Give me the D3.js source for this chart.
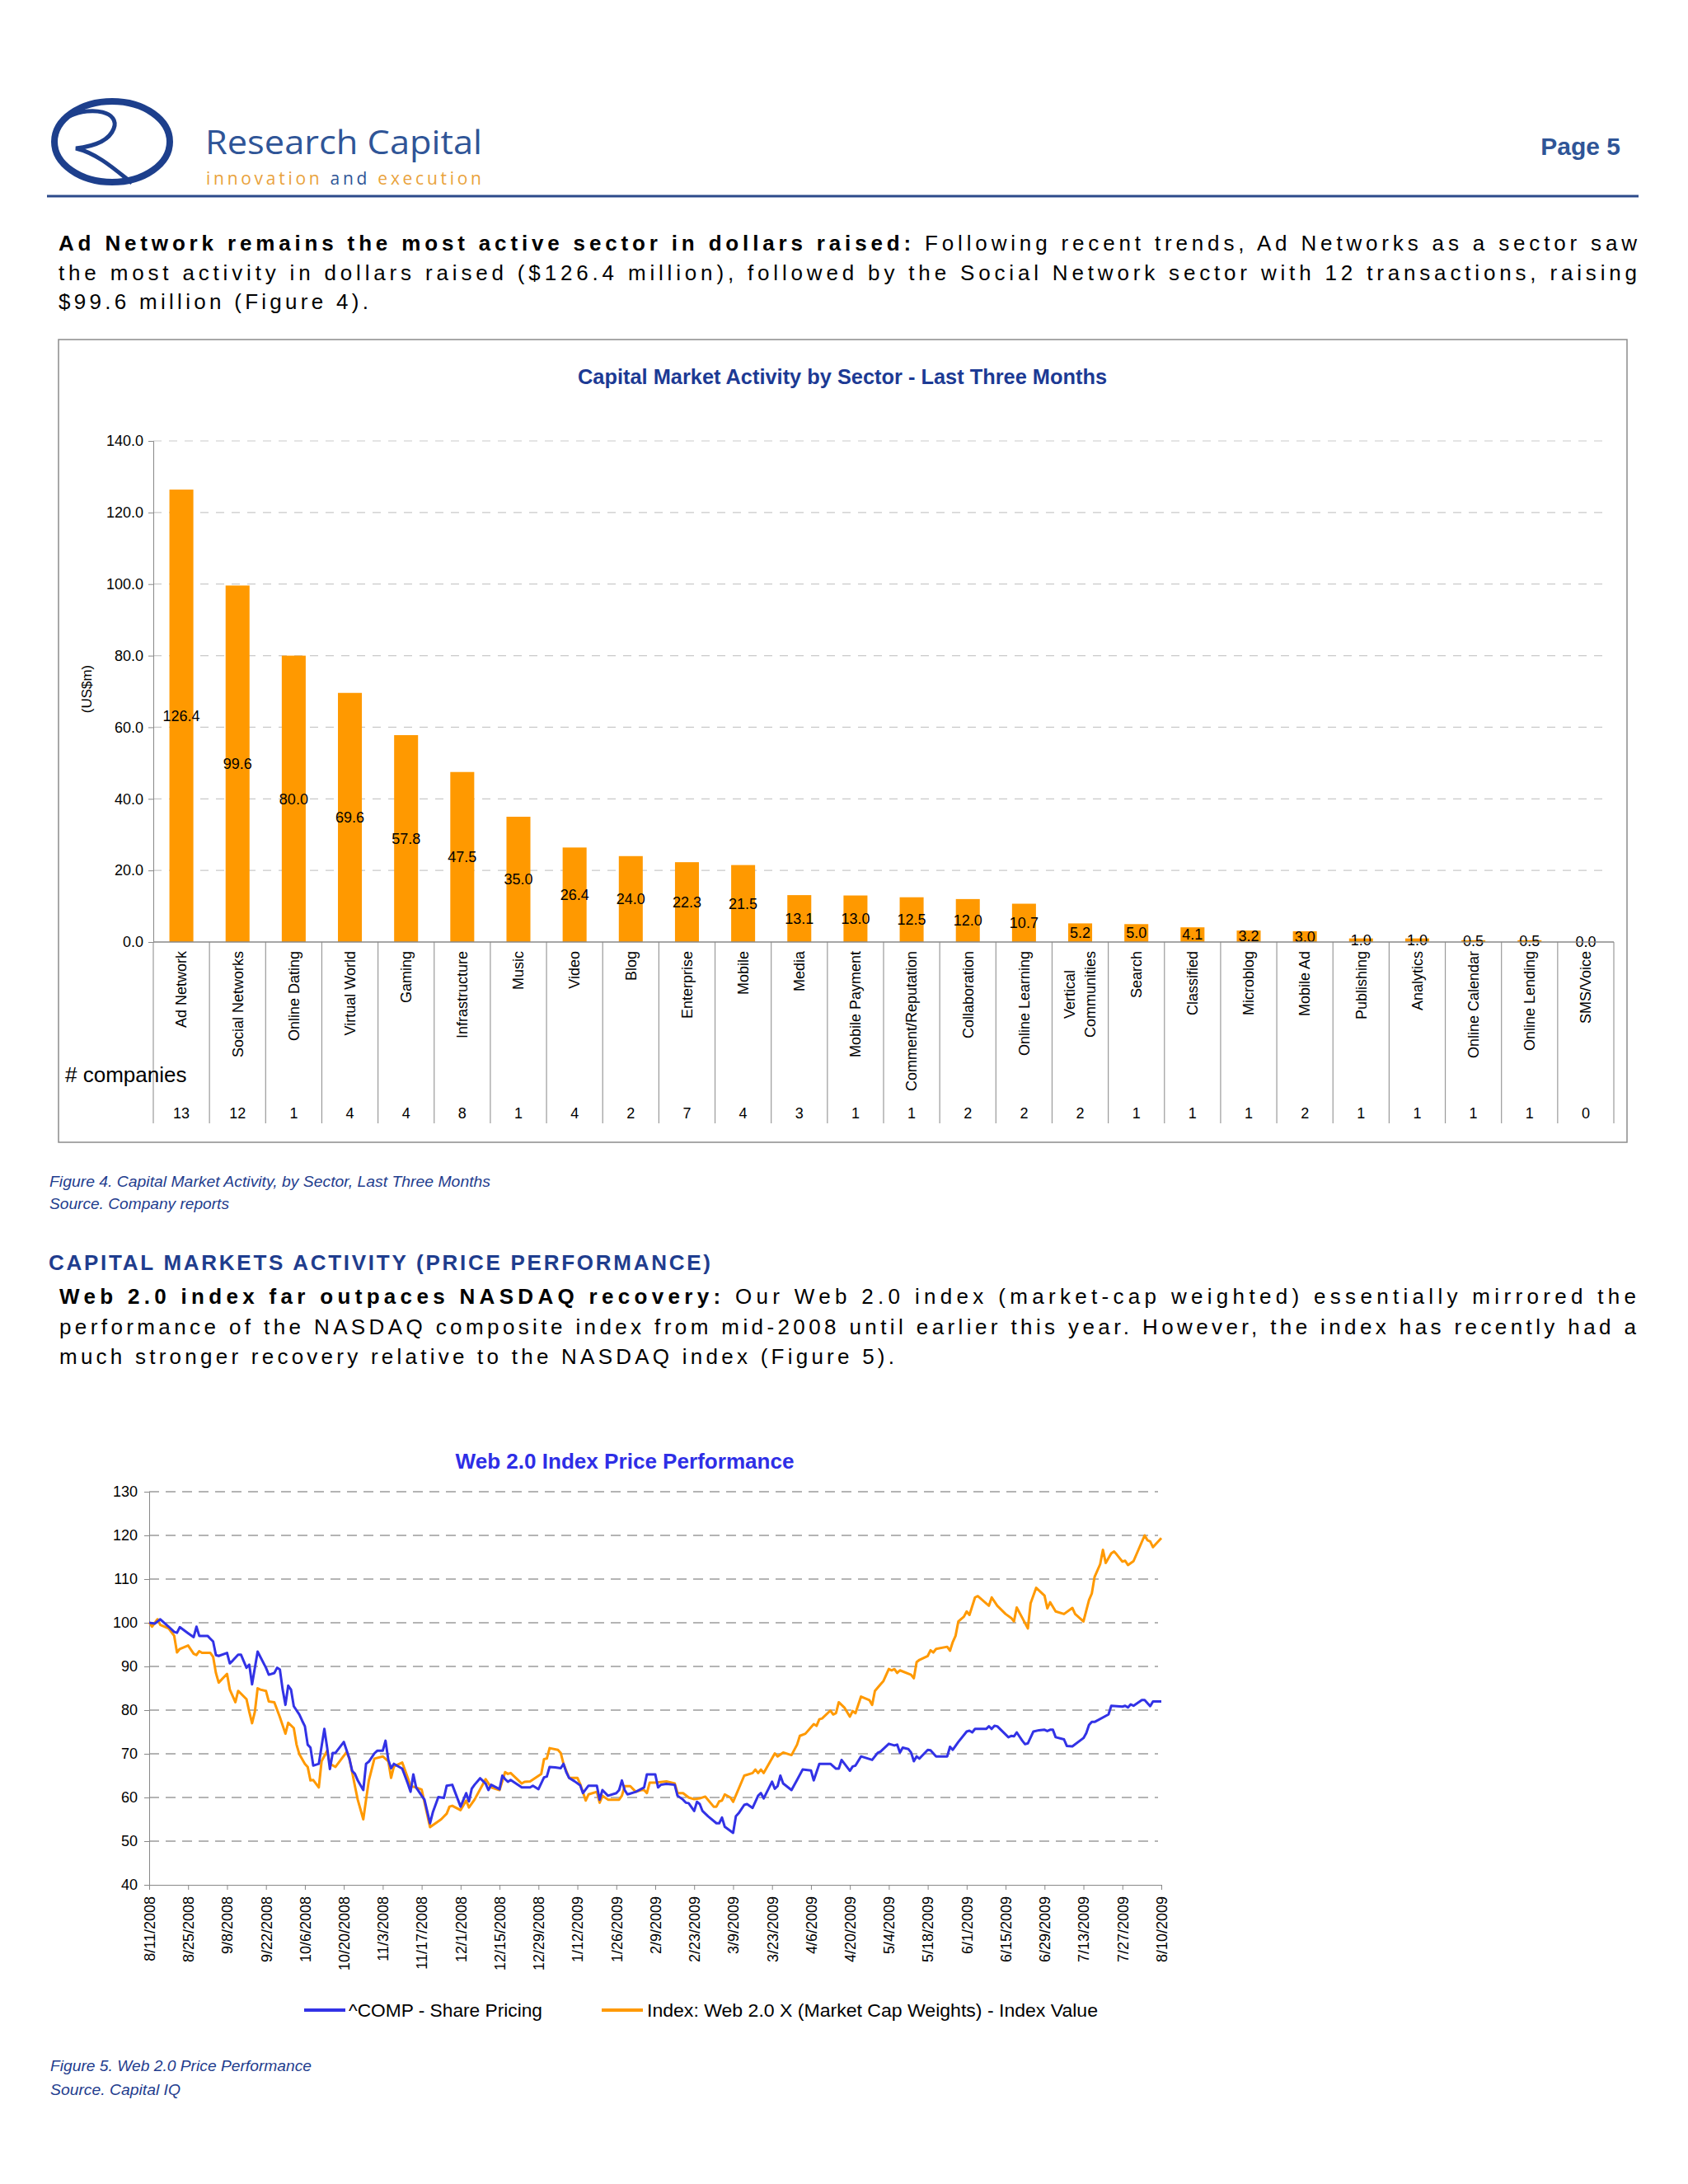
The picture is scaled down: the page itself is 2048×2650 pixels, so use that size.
<!DOCTYPE html>
<html><head><meta charset="utf-8">
<script src="https://cdn.jsdelivr.net/npm/d3@7"></script>
<style>body{margin:0;background:#fff}svg{display:block}</style>
</head><body>
<svg id="page" width="2048" height="2650"></svg>
<script>
// ---------------- DATA ----------------
const sectors = ["Ad Network","Social Networks","Online Dating","Virtual World","Gaming","Infrastructure","Music","Video","Blog","Enterprise","Mobile","Media","Mobile Payment","Comment/Reputation","Collaboration","Online Learning","Vertical\nCommunities","Search","Classified","Microblog","Mobile Ad","Publishing","Analytics","Online Calendar","Online Lending","SMS/Voice"];
const raised = [126.4,99.6,80.0,69.6,57.8,47.5,35.0,26.4,24.0,22.3,21.5,13.1,13.0,12.5,12.0,10.7,5.2,5.0,4.1,3.2,3.0,1.0,1.0,0.5,0.5,0.0];
const companies = [13,12,1,4,4,8,1,4,2,7,4,3,1,1,2,2,2,1,1,1,2,1,1,1,1,0];
const barYTicks = [0,20,40,60,80,100,120,140];

const START_DATE = "2008-08-11";
const dateTickLabels = ["8/11/2008","8/25/2008","9/8/2008","9/22/2008","10/6/2008","10/20/2008","11/3/2008","11/17/2008","12/1/2008","12/15/2008","12/29/2008","1/12/2009","1/26/2009","2/9/2009","2/23/2009","3/9/2009","3/23/2009","4/6/2009","4/20/2009","5/4/2009","5/18/2009","6/1/2009","6/15/2009","6/29/2009","7/13/2009","7/27/2009","8/10/2009"];
const lineYTicks = [40,50,60,70,80,90,100,110,120,130];
// [days since START_DATE, value]
const compSeries = [[0,100.0],[2,99.8],[4,100.8],[7,99.1],[9,97.9],[10,97.7],[11,99.0],[14,97.6],[16,96.7],[17,99.1],[18,97.0],[21,97.0],[23,95.7],[24,92.6],[25,92.4],[28,93.1],[29,90.7],[30,91.3],[32,92.7],[33,92.7],[35,89.7],[36,90.4],[37,85.9],[39,93.4],[42,89.7],[43,88.1],[45,88.5],[46,89.7],[47,89.3],[48,84.7],[49,81.2],[50,85.6],[51,84.7],[52,80.9],[54,79.0],[55,77.6],[56,76.3],[57,72.1],[58,71.4],[59,67.3],[61,67.7],[63,75.7],[64,71.4],[65,66.5],[66,70.2],[67,70.2],[70,72.7],[72,68.9],[73,66.1],[74,65.4],[75,63.9],[77,61.7],[78,67.7],[79,68.2],[81,70.1],[82,70.7],[84,70.7],[85,73.0],[86,68.6],[87,66.7],[88,67.7],[91,66.6],[93,63.2],[94,61.3],[95,65.3],[96,62.3],[98,60.4],[99,59.5],[101,54.1],[102,56.6],[104,60.1],[106,59.9],[107,62.7],[109,62.9],[112,57.9],[114,61.0],[115,59.1],[116,62.0],[117,62.9],[119,64.4],[121,63.2],[122,61.7],[123,62.9],[126,61.9],[127,65.0],[128,64.2],[129,63.6],[130,64.0],[134,62.3],[137,62.3],[138,62.7],[140,61.9],[142,64.6],[143,64.8],[144,67.0],[146,66.9],[148,66.7],[149,67.7],[150,65.8],[151,64.5],[153,63.7],[155,62.8],[156,61.0],[158,62.7],[161,62.7],[162,59.5],[163,61.7],[165,60.4],[168,61.0],[169,61.7],[170,63.9],[171,61.7],[172,60.7],[175,61.3],[178,62.3],[179,65.3],[182,65.3],[183,62.3],[184,62.9],[186,63.1],[189,62.9],[190,60.4],[192,59.5],[193,58.8],[194,58.7],[196,56.9],[197,59.0],[198,58.5],[199,56.9],[201,55.7],[204,54.1],[205,54.1],[206,55.4],[207,53.3],[210,51.9],[211,55.7],[212,56.4],[214,58.3],[215,58.5],[217,57.6],[219,60.4],[220,61.0],[221,59.8],[224,63.6],[225,62.0],[226,62.6],[227,65.0],[228,63.2],[231,61.7],[233,64.0],[235,66.4],[238,66.2],[239,63.9],[241,67.7],[245,67.7],[247,66.6],[248,66.6],[249,68.6],[252,66.1],[253,67.1],[254,67.3],[256,69.4],[260,68.6],[262,70.2],[263,70.5],[266,72.3],[268,71.9],[269,72.1],[270,70.3],[271,71.4],[273,71.1],[274,70.3],[275,68.3],[276,69.4],[277,68.9],[280,70.9],[281,70.8],[283,69.4],[287,69.4],[288,71.6],[289,70.9],[291,72.7],[294,75.1],[295,75.3],[296,74.9],[297,75.7],[301,75.7],[302,76.3],[303,75.7],[304,76.4],[305,76.3],[309,73.8],[310,74.1],[311,74.0],[312,74.9],[314,73.0],[315,72.2],[316,72.4],[318,75.1],[320,75.4],[322,75.5],[323,75.2],[324,75.5],[325,75.5],[326,73.8],[329,73.3],[330,71.8],[332,71.7],[336,73.6],[337,74.7],[338,76.6],[339,77.3],[340,77.3],[345,79.0],[346,81.0],[350,80.8],[351,81.0],[352,80.6],[353,81.3],[354,81.0],[357,82.3],[358,82.3],[360,80.9],[361,82.0],[364,82.0]];
const web20Series = [[0,100.1],[1,99.1],[3,100.8],[4,99.5],[7,98.7],[9,97.0],[10,93.2],[11,94.0],[14,94.8],[16,92.9],[17,92.6],[18,93.5],[19,93.1],[22,93.1],[23,92.2],[24,88.5],[25,86.3],[28,88.3],[29,84.7],[31,81.8],[32,84.4],[35,82.5],[36,79.6],[37,77.0],[38,79.6],[39,85.0],[40,84.7],[42,84.4],[43,82.0],[45,81.8],[47,78.4],[49,74.6],[50,77.1],[52,75.9],[53,72.1],[54,69.9],[56,67.7],[57,67.0],[58,63.9],[59,64.0],[61,62.3],[62,68.3],[64,70.7],[65,67.7],[67,67.0],[71,70.4],[72,68.9],[73,65.8],[74,62.6],[75,59.5],[77,55.0],[78,59.5],[79,63.9],[81,68.9],[84,69.4],[86,68.3],[87,64.5],[88,67.1],[91,68.0],[93,64.5],[94,62.6],[96,62.3],[98,61.8],[101,53.2],[103,54.1],[105,55.0],[107,56.3],[108,57.9],[109,58.1],[112,57.1],[114,59.3],[115,57.7],[117,59.5],[121,64.2],[123,62.3],[126,61.7],[128,65.8],[129,65.4],[130,65.6],[134,63.2],[135,63.6],[137,63.7],[141,65.4],[142,68.8],[143,68.9],[144,71.3],[147,70.9],[148,70.2],[149,67.7],[151,64.5],[154,64.5],[155,63.1],[156,61.2],[157,59.3],[158,60.7],[161,61.3],[162,58.8],[163,60.4],[165,59.5],[169,59.5],[170,60.4],[171,62.6],[173,62.6],[175,61.3],[177,61.7],[178,61.7],[179,61.0],[180,63.4],[182,63.4],[186,63.7],[189,63.2],[190,61.0],[192,61.0],[194,60.0],[196,59.6],[198,59.8],[200,60.2],[203,57.9],[204,57.9],[205,59.1],[206,59.3],[207,60.7],[209,60.0],[210,59.0],[214,65.0],[217,65.6],[218,66.4],[219,65.6],[220,66.4],[221,65.6],[225,70.1],[226,69.4],[228,70.3],[231,69.7],[233,72.1],[234,74.1],[236,74.6],[239,76.8],[240,76.4],[241,77.9],[242,78.1],[245,79.9],[246,79.0],[247,79.3],[248,81.8],[250,80.6],[252,78.5],[253,79.8],[254,79.3],[256,83.1],[259,82.3],[260,81.2],[261,84.4],[263,85.9],[264,86.6],[266,89.4],[267,89.1],[268,89.4],[269,88.5],[270,89.1],[274,88.1],[275,87.3],[276,91.0],[277,91.5],[280,92.4],[281,93.7],[282,93.2],[283,94.0],[287,94.5],[288,93.6],[289,95.6],[290,97.0],[291,100.3],[293,101.4],[294,102.6],[295,101.8],[297,105.8],[298,106.1],[302,103.9],[303,105.8],[305,103.9],[308,102.0],[310,101.1],[311,100.3],[312,103.5],[314,101.1],[316,98.7],[317,104.5],[319,108.0],[322,106.2],[323,103.3],[324,104.7],[326,102.6],[329,102.0],[332,103.4],[333,102.0],[336,100.3],[338,105.2],[339,106.7],[340,110.5],[342,113.4],[343,116.7],[344,113.7],[346,115.9],[347,116.3],[348,115.6],[350,114.0],[351,114.2],[352,113.2],[354,114.1],[358,120.0],[359,118.9],[360,118.6],[361,117.3],[364,119.4]];
const legendLabels = ["^COMP - Share Pricing","Index: Web 2.0 X (Market Cap Weights) - Index Value"];

// ---------------- STYLE ----------------
const FONT = "'Liberation Sans', Arial, Helvetica, sans-serif";
const NAVY = "#1f3d8e";
const ORANGE = "#ff9900";
const BLUE = "#3232e6";
const svg = d3.select("#page").style("font-family", FONT);
svg.append("rect").attr("width",2048).attr("height",2650).attr("fill","#fff");

function txt(g, s, x, y, opts = {}) {
  const t = g.append("text").attr("x", x).attr("y", y).text(s)
    .attr("font-size", opts.size || 18).attr("fill", opts.fill || "#000");
  if (opts.weight) t.attr("font-weight", opts.weight);
  if (opts.style) t.attr("font-style", opts.style);
  if (opts.anchor) t.attr("text-anchor", opts.anchor);
  if (opts.len) t.attr("textLength", opts.len).attr("lengthAdjust", opts.adjust || "spacingAndGlyphs");
  if (opts.family) t.attr("font-family", opts.family);
  return t;
}
function para(g, parts, x, y, len) {
  const t = g.append("text").attr("x", x).attr("y", y).attr("font-size", 26).attr("fill", "#000");
  parts.forEach(p => t.append("tspan").attr("font-weight", p[1] ? "bold" : "normal").text(p[0]));
  if (len) t.attr("textLength", len).attr("lengthAdjust", "spacing");
  return t;
}

// ---------------- HEADER ----------------
const hdr = svg.append("g");
hdr.append("ellipse").attr("cx",136).attr("cy",172).attr("rx",70).attr("ry",49)
  .attr("fill","none").attr("stroke","#1d3f8c").attr("stroke-width",8);
hdr.append("path").attr("d","M84,141 C112,128 146,136 138,156 C132,172 110,178 92,180 C118,186 140,206 160,222")
  .attr("fill","none").attr("stroke","#1d3f8c").attr("stroke-width",5);
txt(hdr, "Research Capital", 249, 187, {size:40, fill:"#2f5597", family:"'Open Sans', 'Liberation Sans', sans-serif", len:336});
const tag = hdr.append("text").attr("x",250).attr("y",224).attr("font-size",21)
  .attr("font-family","'Open Sans', 'Liberation Sans', sans-serif").attr("textLength",334).attr("lengthAdjust","spacing");
tag.append("tspan").attr("fill","#e9a23b").text("innovation ");
tag.append("tspan").attr("fill","#2f5597").text("and ");
tag.append("tspan").attr("fill","#e9a23b").text("execution");
txt(hdr, "Page 5", 1966, 188, {size:30, weight:"bold", fill:"#2f5597", anchor:"end"});
hdr.append("line").attr("x1",57).attr("x2",1988).attr("y1",238).attr("y2",238).attr("stroke","#2c4a8a").attr("stroke-width",3);

// paragraph 1
para(svg, [["Ad Network remains the most active sector in dollars raised:", true], [" Following recent trends, Ad Networks as a sector saw", false]], 71, 304, 1915);
para(svg, [["the most activity in dollars raised ($126.4 million), followed by the Social Network sector with 12 transactions, raising", false]], 71, 340, 1915);
para(svg, [["$99.6 million (Figure 4).", false]], 71, 375, 376);

// ---------------- BAR CHART ----------------
const bc = svg.append("g");
bc.append("rect").attr("x",71).attr("y",412).attr("width",1903).attr("height",974)
  .attr("fill","#fff").attr("stroke","#8c8c8c").attr("stroke-width",1.5);
txt(bc, "Capital Market Activity by Sector - Last Three Months", 1022, 466, {size:25, weight:"bold", fill:"#1c3a94", anchor:"middle", len:642});

const xb = d3.scaleBand().domain(sectors).range([186,1958]).paddingInner(0.574).paddingOuter(0.287);
const yb = d3.scaleLinear().domain([0,140]).range([1143,535]);
const step = xb.step();

// grid
bc.append("g").selectAll("line").data(barYTicks.filter(d => d > 0)).join("line")
  .attr("x1",186).attr("x2",1952).attr("y1",d => yb(d)).attr("y2",d => yb(d))
  .attr("stroke","#c9c9c9").attr("stroke-width",1.2).attr("stroke-dasharray","10,9");
// y axis
const yAxisB = d3.axisLeft(yb).tickValues(barYTicks).tickFormat(d3.format(".1f")).tickSize(6).tickPadding(6);
const yag = bc.append("g").attr("transform","translate(186,0)").call(yAxisB);
yag.select(".domain").attr("stroke","#888");
yag.selectAll(".tick line").attr("stroke","#888");
yag.selectAll("text").attr("font-size",18).attr("font-family",FONT).attr("fill","#000");
txt(bc, "(US$m)", 0, 0, {size:17, anchor:"middle"}).attr("transform","translate(105,836) rotate(-90)").attr("dy","0.35em");

// bars
bc.append("g").selectAll("rect").data(sectors).join("rect")
  .attr("x", d => xb(d)).attr("width", xb.bandwidth())
  .attr("y", (d,i) => yb(raised[i])).attr("height", (d,i) => yb(0) - yb(raised[i]))
  .attr("fill", ORANGE);
// value labels
bc.append("g").selectAll("text").data(sectors).join("text")
  .attr("x", d => xb(d) + xb.bandwidth()/2).attr("y", (d,i) => yb(raised[i]/2)).attr("dy","0.35em")
  .attr("text-anchor","middle").attr("font-size",18).attr("fill","#000")
  .text((d,i) => d3.format(".1f")(raised[i]));
// category separators
const seps = d3.range(sectors.length + 1).map(i => 186 + i * step);
bc.append("g").selectAll("line").data(seps).join("line")
  .attr("x1", d => d).attr("x2", d => d).attr("y1", 1143).attr("y2", 1363)
  .attr("stroke","#9a9a9a").attr("stroke-width",1.2);
bc.append("line").attr("x1",186).attr("x2",1958).attr("y1",1143).attr("y2",1143).attr("stroke","#888").attr("stroke-width",1.5);
// category labels
const catG = bc.append("g");
sectors.forEach(name => {
  const lines = name.split("\n");
  const cx = xb(name) + xb.bandwidth()/2;
  const lh = 25;
  const g = catG.append("g");
  const ts = lines.map(ln => g.append("text").attr("font-size",18).attr("fill","#000").text(ln));
  const maxLen = d3.max(ts, t => t.node().getComputedTextLength());
  ts.forEach((t, k) => {
    const off = (k - (lines.length - 1) / 2) * lh;
    t.attr("text-anchor","middle").attr("dy","0.35em")
     .attr("transform", `translate(${cx + off},${1154 + maxLen/2}) rotate(-90)`);
  });
});
// # companies
txt(bc, "# companies", 79, 1313, {size:26});
bc.append("g").selectAll("text").data(sectors).join("text")
  .attr("x", d => xb(d) + xb.bandwidth()/2).attr("y", 1357).attr("text-anchor","middle")
  .attr("font-size",18).text((d,i) => companies[i]);

// captions
txt(svg, "Figure 4. Capital Market Activity, by Sector, Last Three Months", 60, 1440, {size:19, style:"italic", fill:NAVY, len:535});
txt(svg, "Source. Company reports", 60, 1467, {size:19, style:"italic", fill:NAVY, len:218});

// section header
txt(svg, "CAPITAL MARKETS ACTIVITY (PRICE PERFORMANCE)", 59, 1541, {size:26, weight:"bold", fill:NAVY, len:803, adjust:"spacing"});

para(svg, [["Web 2.0 index far outpaces NASDAQ recovery:", true], [" Our Web 2.0 index (market-cap weighted) essentially mirrored the", false]], 72, 1582, 1913);
para(svg, [["performance of the NASDAQ composite index from mid-2008 until earlier this year. However, the index has recently had a", false]], 72, 1619, 1913);
para(svg, [["much stronger recovery relative to the NASDAQ index (Figure 5).", false]], 72, 1655, 1013);

// ---------------- LINE CHART ----------------
const lc = svg.append("g");
txt(lc, "Web 2.0 Index Price Performance", 758, 1782, {size:26, weight:"bold", fill:"#2e2ee6", anchor:"middle", len:411});
const parseTick = d3.timeParse("%m/%d/%Y");
const tickDates = dateTickLabels.map(parseTick);
const start = d3.timeParse("%Y-%m-%d")(START_DATE);
const xl = d3.scaleTime().domain([tickDates[0], tickDates[tickDates.length-1]]).range([181,1409]);
const yl = d3.scaleLinear().domain([40,130]).range([2287,1810]);

lc.append("g").selectAll("line").data(lineYTicks.filter(d => d > 40)).join("line")
  .attr("x1",181).attr("x2",1405).attr("y1",d => yl(d)).attr("y2",d => yl(d))
  .attr("stroke","#9c9c9c").attr("stroke-width",1.6).attr("stroke-dasharray","12,8");
const ylg = lc.append("g").attr("transform","translate(181,0)")
  .call(d3.axisLeft(yl).tickValues(lineYTicks).tickFormat(d3.format("d")).tickSize(6).tickPadding(8));
ylg.select(".domain").attr("stroke","#888");
ylg.selectAll(".tick line").attr("stroke","#888");
ylg.selectAll("text").attr("font-size",18).attr("font-family",FONT).attr("fill","#000");
const xlg = lc.append("g").attr("transform","translate(0,2287)")
  .call(d3.axisBottom(xl).tickValues(tickDates).tickFormat((d,i) => dateTickLabels[i]).tickSize(6).tickSizeOuter(0));
xlg.select(".domain").attr("stroke","#888");
xlg.selectAll(".tick line").attr("stroke","#888");
xlg.selectAll("text").attr("font-size",18).attr("font-family",FONT).attr("fill","#000")
  .attr("text-anchor","end").attr("y",0).attr("x",0).attr("dy","0.35em")
  .attr("transform","translate(0,14) rotate(-90)");

const lineGen = d3.line().x(d => xl(d3.timeDay.offset(start, d[0]))).y(d => yl(d[1]));
lc.append("path").datum(web20Series).attr("d", lineGen).attr("fill","none").attr("stroke",ORANGE).attr("stroke-width",3).attr("stroke-linejoin","round");
lc.append("path").datum(compSeries).attr("d", lineGen).attr("fill","none").attr("stroke",BLUE).attr("stroke-width",3).attr("stroke-linejoin","round");

// legend
const lg = lc.append("g");
lg.append("line").attr("x1",369).attr("x2",419).attr("y1",2439).attr("y2",2439).attr("stroke",BLUE).attr("stroke-width",4);
txt(lg, legendLabels[0], 423, 2447, {size:22, len:235});
lg.append("line").attr("x1",730).attr("x2",780).attr("y1",2439).attr("y2",2439).attr("stroke",ORANGE).attr("stroke-width",4);
txt(lg, legendLabels[1], 785, 2447, {size:22, len:547});

txt(svg, "Figure 5. Web 2.0 Price Performance", 61, 2513, {size:19, style:"italic", fill:NAVY, len:317});
txt(svg, "Source. Capital IQ", 61, 2542, {size:19, style:"italic", fill:NAVY, len:158});
</script>
</body></html>
